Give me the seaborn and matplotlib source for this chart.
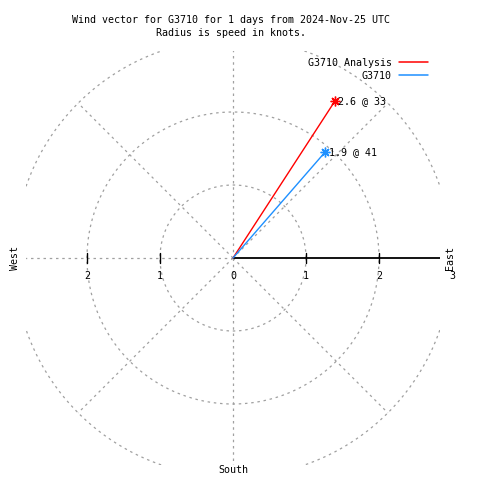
import numpy as np
import pandas as pd
import matplotlib
matplotlib.use("Agg")
import matplotlib.pyplot as plt
import seaborn as sns

# ---- data ----
series_names = ["G3710 Analysis", "G3710"]
speeds = [2.56, 1.93]        # knots
directions = [33, 41]        # degrees (compass)
series_colors = ["#ff0000", "#1e90ff"]
ring_values = [1, 2, 3]
spoke_angles = [0, 45, 90, 135, 180, 225, 270, 315]
tick_values = [-2, -1, 0, 1, 2, 3]
title_lines = ["Wind vector for G3710 for 1 days from 2024-Nov-25 UTC",
               "Radius is speed in knots."]

sns.set_theme(style="white")
plt.rcParams['font.family'] = ['DejaVu Sans Mono', 'DejaVu Sans']
plt.rcParams['text.color'] = 'black'
FS = 7.2

fig = plt.figure(figsize=(4.8, 4.8), dpi=100)
L = 2.83
ax = fig.add_axes([26.4 / 480, 15.4 / 480, 413.2 / 480, 413.2 / 480])
ax.set_xlim(-L, L)
ax.set_ylim(-L, L)
ax.set_aspect("equal")
ax.axis("off")

grid_kw = dict(color="#a0a0a0", lw=0.9, ls=(0, (2, 3)), zorder=1)
# rings
th = np.linspace(0, 2 * np.pi, 721)
for r in ring_values:
    ax.plot(r * np.cos(th), r * np.sin(th), **grid_kw)
# spokes
for a in spoke_angles:
    if a == 90:
        continue
    rad = np.deg2rad(a)
    rmax = 3 if a % 90 else 3.5
    ax.plot([0, rmax * np.sin(rad)], [0, rmax * np.cos(rad)], **grid_kw)

# axis line (east)
ax.plot([0, L], [0, 0], color="black", lw=1.3, zorder=3, solid_capstyle="butt")
for t in tick_values:
    if t == 0 or abs(t) > 2:
        continue
    ax.plot([t, t], [-0.065, 0.065], color="black", lw=1.0, zorder=3)
for t in tick_values:
    ax.text(t, -0.245, str(abs(t)), ha="center", va="center", fontsize=FS,
            clip_on=False)

# vectors
rows = []
for n, s, d in zip(series_names, speeds, directions):
    rad = np.deg2rad(d)
    rows.append(dict(name=n, order=0, x=0.0, y=0.0))
    rows.append(dict(name=n, order=1, x=s * np.sin(rad), y=s * np.cos(rad)))
df = pd.DataFrame(rows)
sns.lineplot(data=df, x="x", y="y", hue="name", units="name", estimator=None,
             sort=False, palette=dict(zip(series_names, series_colors)),
             hue_order=series_names, lw=1.0, ax=ax, zorder=4, legend=True)
tips = df[df.order == 1]
for (_, row), c, s, d in zip(tips.iterrows(), series_colors, speeds, directions):
    ax.plot(row.x, row.y, marker=(8, 2, 0), ms=7, mec=c, mew=1.0, color=c,
            zorder=5)
    ax.annotate(f"{s:.1f} @ {d}", (row.x, row.y), xytext=(2.5, 0),
                textcoords="offset points", ha="left", va="center",
                fontsize=FS, zorder=6)

# compass labels
ax.text(-2.985, 0, "West", rotation=90, ha="center", va="center", fontsize=FS,
        clip_on=False)
ax.text(2.97, 0, "East", rotation=90, ha="center", va="center", fontsize=FS,
        clip_on=False)
ax.text(0, -2.91, "South", ha="center", va="center", fontsize=FS, clip_on=False)

# legend
leg = ax.legend(frameon=False, loc="upper right",
                bbox_to_anchor=(427.5 / 480, 1 - 57.5 / 480),
                bbox_transform=fig.transFigure, markerfirst=False,
                fontsize=FS, handlelength=2.9, handletextpad=0.7,
                labelspacing=0.32, borderpad=0, borderaxespad=0)
for h in leg.get_lines():
    h.set_linewidth(1.1)

fig.text(231 / 480, 1 - 20 / 480, title_lines[0], ha="center", va="center",
         fontsize=FS)
fig.text(231 / 480, 1 - 33 / 480, title_lines[1], ha="center", va="center",
         fontsize=FS)

fig.savefig("out.png", dpi=100, facecolor="white")
